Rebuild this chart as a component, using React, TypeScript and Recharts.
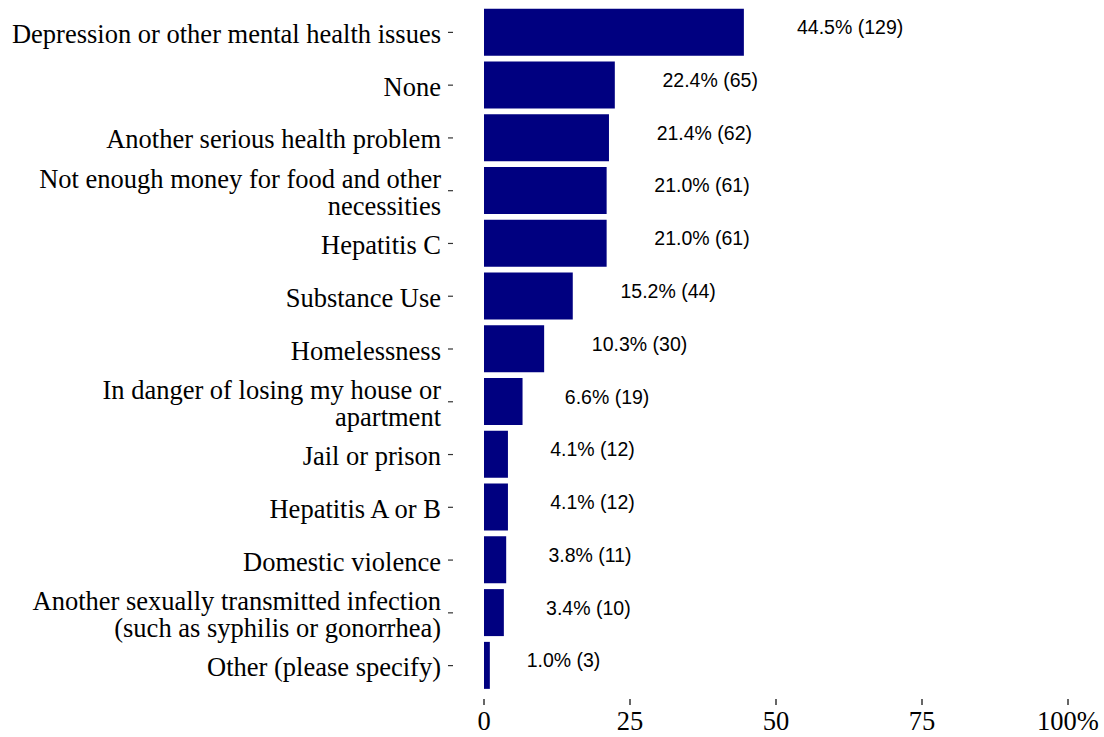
import React from "react";
import { BarChart, Bar, XAxis, YAxis, LabelList } from "recharts";

const categories: string[] = [
  "Depression or other mental health issues",
  "None",
  "Another serious health problem",
  "Not enough money for food and other\nnecessities",
  "Hepatitis C",
  "Substance Use",
  "Homelessness",
  "In danger of losing my house or\napartment",
  "Jail or prison",
  "Hepatitis A or B",
  "Domestic violence",
  "Another sexually transmitted infection\n(such as syphilis or gonorrhea)",
  "Other (please specify)",
];
const percents: number[] = [44.5, 22.4, 21.4, 21.0, 21.0, 15.2, 10.3, 6.6, 4.1, 4.1, 3.8, 3.4, 1.0];
const counts: number[] = [129, 65, 62, 61, 61, 44, 30, 19, 12, 12, 11, 10, 3];
const xTicks: number[] = [0, 25, 50, 75, 100];

const data = categories.map((c, i) => ({
  category: c,
  pct: percents[i],
  label: `${percents[i].toFixed(1)}% (${counts[i]})`,
}));

const VALUE_FONT = 19.5;
const charW: Record<string, number> = {
  ".": 0.278, "%": 0.889, " ": 0.278, "(": 0.333, ")": 0.333,
};
const textWidth = (s: string) =>
  s.split("").reduce((a, ch) => a + (charW[ch] ?? 0.556), 0) * VALUE_FONT;

const SERIF = "'Liberation Serif', 'Times New Roman', serif";
const SANS = "'Liberation Sans', Arial, sans-serif";

const YTick = (props: any) => {
  const { x, y, payload } = props;
  const lines: string[] = String(payload.value).split("\n");
  const lh = 27;
  const startY = y - ((lines.length - 1) * lh) / 2 + 10.5;
  return (
    <g>
      <line x1={x - 28} x2={x - 23} y1={y} y2={y} stroke="#333" strokeWidth={1.2} />
      <text textAnchor="end" fontFamily={SERIF} fontSize={26.5} fill="#000">
        {lines.map((l, i) => (
          <tspan key={i} x={x - 35} y={startY + i * lh}>
            {l}
          </tspan>
        ))}
      </text>
    </g>
  );
};

const XTick = (props: any) => {
  const { x, y, payload } = props;
  const v = payload.value;
  return (
    <g>
      <line x1={x} x2={x} y1={y - 1} y2={y + 5} stroke="#333" strokeWidth={1.5} />
      <text x={x} y={y + 30} textAnchor="middle" fontFamily={SERIF} fontSize={26.5} fill="#000">
        {v === 100 ? "100%" : String(v)}
      </text>
    </g>
  );
};

const ValueLabel = (props: any) => {
  const { x, y, width, height, value } = props;
  const w = textWidth(String(value));
  return (
    <text
      x={x + width + 0.5 * w}
      y={y + height / 2 + 2}
      textAnchor="start"
      fontFamily={SANS}
      fontSize={VALUE_FONT}
      fill="#000"
    >
      {value}
    </text>
  );
};

export default function App() {
  return (
    <div style={{ position: "fixed", left: 0, top: 0, background: "#fff" }}>
      <BarChart
        width={1104}
        height={737}
        data={data}
        layout="vertical"
        margin={{ top: 6, right: 36, bottom: 0, left: 0 }}
        barCategoryGap="5%"
      >
        <XAxis
          type="number"
          dataKey="pct"
          domain={[0, 100]}
          ticks={xTicks}
          axisLine={false}
          tickLine={false}
          tick={<XTick />}
          height={45}
          interval={0}
        />
        <YAxis
          type="category"
          dataKey="category"
          width={484}
          axisLine={false}
          tickLine={false}
          tick={<YTick />}
          interval={0}
        />
        <Bar dataKey="pct" fill="#000080" isAnimationActive={false}>
          <LabelList dataKey="label" content={<ValueLabel />} />
        </Bar>
      </BarChart>
    </div>
  );
}
